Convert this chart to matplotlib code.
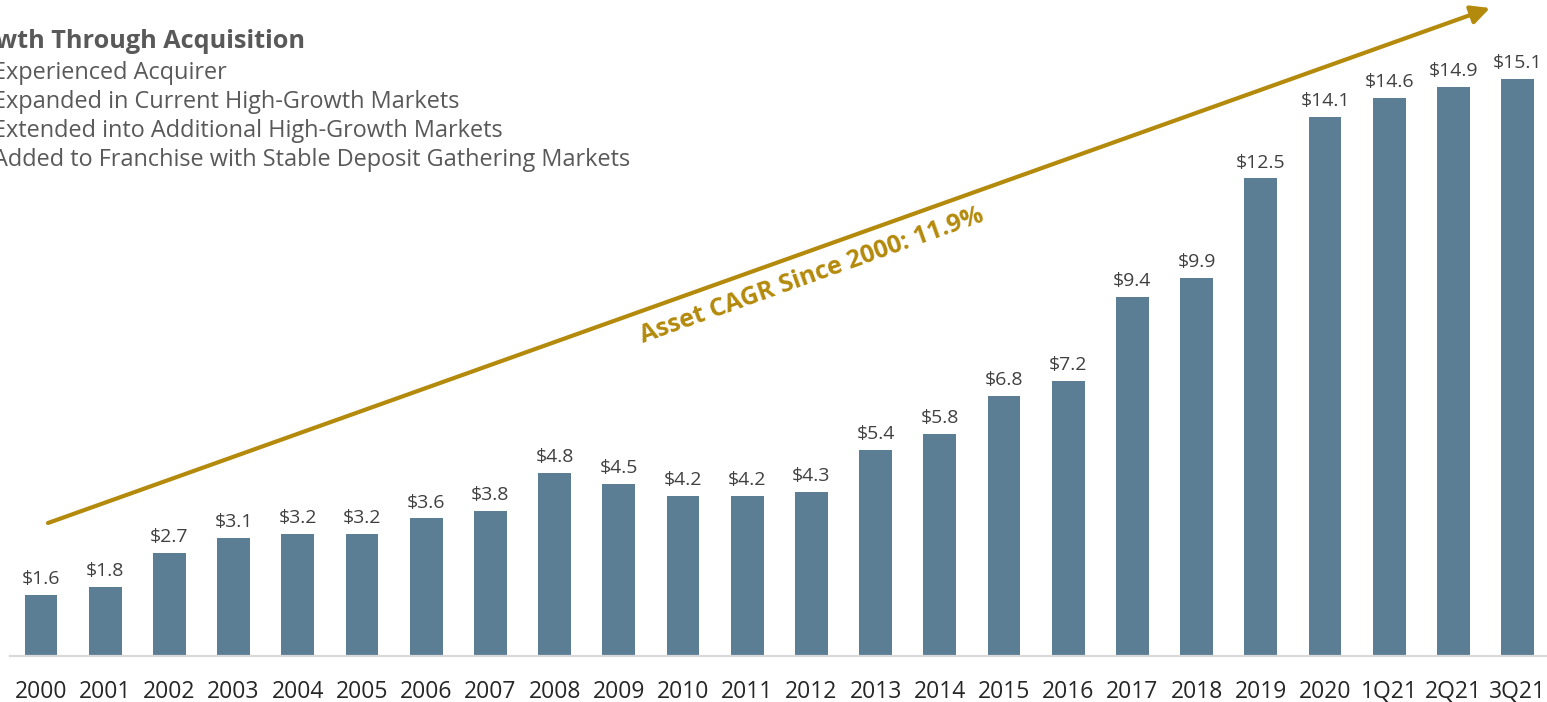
import matplotlib
matplotlib.use("Agg")
import matplotlib.pyplot as plt

# data
periods = ["2000", "2001", "2002", "2003", "2004", "2005", "2006", "2007",
           "2008", "2009", "2010", "2011", "2012", "2013", "2014", "2015",
           "2016", "2017", "2018", "2019", "2020", "1Q21", "2Q21", "3Q21"]
assets = [1.6, 1.8, 2.7, 3.1, 3.2, 3.2, 3.6, 3.8, 4.8, 4.5, 4.2, 4.2, 4.3,
          5.4, 5.8, 6.8, 7.2, 9.4, 9.9, 12.5, 14.1, 14.6, 14.9, 15.1]
title = "Growth Through Acquisition"
bullets = ["Experienced Acquirer",
           "Expanded in Current High-Growth Markets",
           "Extended into Additional High-Growth Markets",
           "Added to Franchise with Stable Deposit Gathering Markets"]
cagr_text = "Asset CAGR Since 2000: 11.9%"

BAR = "#5B7E95"
GOLD = "#B48A0C"
GREY = "#595959"

plt.rcParams["font.family"] = ["Open Sans", "DejaVu Sans"]

W, H = 1547, 702
fig = plt.figure(figsize=(W / 100, H / 100), dpi=100)
ax = fig.add_axes([0, 46 / H, 1, 656 / H])

x = list(range(len(periods)))
ax.bar(x, assets, width=0.51, color=BAR, zorder=2)
for xi, v in zip(x, assets):
    ax.annotate(f"${v}", (xi, v), xytext=(0, 5), textcoords="offset points",
                ha="center", va="bottom", fontsize=14, color="#404040")

step = 64.2
ax.set_xlim(-41 / step, (W - 41) / step)
ax.set_ylim(0, 656 / 38.2)
ax.set_xticks(x)
ax.set_xticklabels(periods, fontsize=16.5, color="#262626")
ax.tick_params(axis="x", length=0, pad=17)
ax.set_yticks([])
for s in ["top", "right", "left"]:
    ax.spines[s].set_visible(False)
ax.spines["bottom"].set_color("#D9D9D9")
ax.spines["bottom"].set_linewidth(1.6)
ax.spines["bottom"].set_bounds(-31 / step, (W - 41) / step)

# growth arrow
ax.annotate("", xy=(1490, H - 8), xycoords="figure pixels",
            xytext=(48, H - 523), textcoords="figure pixels",
            arrowprops=dict(arrowstyle="-|>", color=GOLD, lw=3,
                            mutation_scale=28, shrinkA=0, shrinkB=0))
fig.text(812 / W, 1 - 276 / H, cagr_text, rotation=19.65, rotation_mode="anchor",
         ha="center", va="center", fontsize=18, fontweight="bold", color=GOLD)

# heading block at top left, partly cut off by the edge
fig.text(305 / W, 1 - 42 / H, title, ha="right", va="center",
         fontsize=18.2, fontweight="bold", color=GREY)
for i, b in enumerate(bullets):
    fig.text(-7 / W, 1 - (73 + 29 * i) / H, b, ha="left", va="center",
             fontsize=16.9, color=GREY)

fig.savefig("out.png", dpi=100)
